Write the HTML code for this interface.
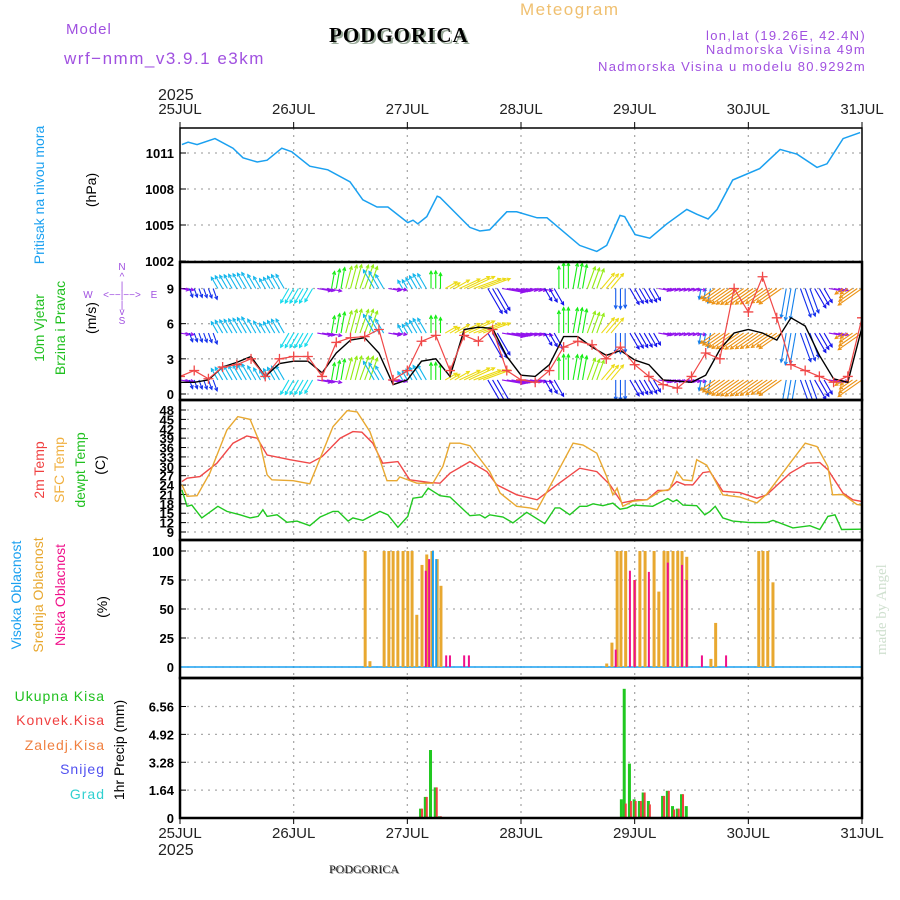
<!DOCTYPE html>
<html><head><meta charset="utf-8">
<style>
html,body{margin:0;padding:0;background:#fff;}
svg{display:block;font-family:"Liberation Sans",sans-serif;}
.tick{font-size:13px;font-weight:bold;fill:#000;}
.date{font-size:15px;fill:#222;}
</style></head>
<body>
<svg id="chart" width="900" height="900" viewBox="0 0 900 900" xmlns="http://www.w3.org/2000/svg">
<defs>
<clipPath id="cp1"><rect x="180" y="129" width="682" height="132"/></clipPath>
<clipPath id="cp2"><rect x="180" y="263" width="682" height="136"/></clipPath>
<clipPath id="cp3"><rect x="180" y="401" width="682" height="138"/></clipPath>
</defs>
<g>
<text x="66" y="34" font-size="15" fill="#a050e0" letter-spacing="1">Model</text>
<text x="64" y="64" font-size="17" fill="#a050e0" letter-spacing="1.5">wrf−nmm_v3.9.1 e3km</text>
<text x="331" y="44" font-size="21" font-weight="bold" font-family="Liberation Serif,serif" fill="#9a9" letter-spacing="1">PODGORICA</text>
<text x="329" y="42" font-size="21" font-weight="bold" font-family="Liberation Serif,serif" fill="#000" letter-spacing="1">PODGORICA</text>
<text x="520" y="15" font-size="17" fill="#f0c070" letter-spacing="1.5">Meteogram</text>
<text x="866" y="40" font-size="13" fill="#a050e0" text-anchor="end" letter-spacing="1.3">lon,lat (19.26E, 42.4N)</text>
<text x="866" y="54" font-size="13" fill="#a050e0" text-anchor="end" letter-spacing="1.3">Nadmorska Visina 49m</text>
<text x="866" y="71" font-size="13" fill="#a050e0" text-anchor="end" letter-spacing="1.3">Nadmorska Visina u modelu 80.9292m</text>
<text x="158" y="100" font-size="16" fill="#222">2025</text>
<text x="158" y="855" font-size="16" fill="#222">2025</text>
<text x="330" y="874" font-size="12" font-family="Liberation Serif,serif" fill="#999">PODGORICA</text>
<text x="329" y="873" font-size="12" font-family="Liberation Serif,serif" fill="#222">PODGORICA</text>
<text transform="translate(886,655) rotate(-90)" font-size="15" font-family="Liberation Serif,serif" fill="#cfe0cf">made by Angel</text>
</g>
<g>
<text transform="translate(44,195) rotate(-90)" font-size="14" fill="#1aa0f0" text-anchor="middle">Pritisak na nivou mora</text>
<text transform="translate(96,190) rotate(-90)" font-size="14" fill="#000" text-anchor="middle">(hPa)</text>
<text transform="translate(44,328) rotate(-90)" font-size="14" fill="#20c020" text-anchor="middle">10m Vjetar</text>
<text transform="translate(65,328) rotate(-90)" font-size="14" fill="#20c020" text-anchor="middle">Brzina i Pravac</text>
<text transform="translate(96,318) rotate(-90)" font-size="14" fill="#000" text-anchor="middle">(m/s)</text>
<g fill="#a050e0" font-size="10" text-anchor="middle">
<text x="122" y="270">N</text><text x="122" y="280">^</text><text x="122" y="289">|</text>
<text x="122" y="298">&lt;−−|−−&gt;</text><text x="88" y="298">W</text><text x="154" y="298">E</text>
<text x="122" y="308">|</text><text x="122" y="315">v</text><text x="122" y="324">S</text>
</g>
<text transform="translate(44,470) rotate(-90)" font-size="14" fill="#f04040" text-anchor="middle">2m Temp</text>
<text transform="translate(64,470) rotate(-90)" font-size="14" fill="#f0b040" text-anchor="middle">SFC Temp</text>
<text transform="translate(85,470) rotate(-90)" font-size="14" fill="#20c020" text-anchor="middle">dewpt Temp</text>
<text transform="translate(105,465) rotate(-90)" font-size="14" fill="#000" text-anchor="middle">(C)</text>
<text transform="translate(21,595) rotate(-90)" font-size="14" fill="#1aa0f0" text-anchor="middle">Visoka Oblacnost</text>
<text transform="translate(43,595) rotate(-90)" font-size="14" fill="#e8a830" text-anchor="middle">Srednja Oblacnost</text>
<text transform="translate(65,595) rotate(-90)" font-size="14" fill="#f0108a" text-anchor="middle">Niska Oblacnost</text>
<text transform="translate(107,607) rotate(-90)" font-size="14" fill="#000" text-anchor="middle">(%)</text>
<g font-size="14" text-anchor="end" letter-spacing="1">
<text x="105" y="701" fill="#20c020">Ukupna Kisa</text>
<text x="105" y="725" fill="#f04040">Konvek.Kisa</text>
<text x="105" y="750" fill="#f08040">Zaledj.Kisa</text>
<text x="105" y="774" fill="#5050f0">Snijeg</text>
<text x="105" y="799" fill="#30d0d0">Grad</text>
</g>
<text transform="translate(124,750) rotate(-90)" font-size="14" fill="#000" text-anchor="middle">1hr Precip (mm)</text>
</g>
<g id="plots"></g>
</svg>
<script>
// ---- data (time in hours from 25JUL 00) ----
const dayLabels = ["25JUL","26JUL","27JUL","28JUL","29JUL","30JUL","31JUL"];
const presTicks = [1002,1005,1008,1011];
const presT = [0.4,1.7,3.6,7.4,11.2,13.3,16.3,18.4,21.5,23.6,27.4,31.2,35.9,38.6,41.6,43.9,48.1,49.2,50.2,52.1,54.3,54.9,61.2,63.3,65.4,69,71.1,75.4,77.5,80.2,84.4,88,90.1,92.9,93.9,96.1,99.2,102.8,107,109.1,111.5,113.4,116.7,122.4,126.7,130.3,134.5,136.6,140,143.6];
const presV = [1011.7,1011.9,1011.7,1012.2,1011.4,1010.6,1010.25,1010.4,1011.4,1011.1,1009.9,1009.6,1008.6,1007.1,1006.5,1006.5,1005.2,1005.4,1005.1,1005.7,1007.4,1007.3,1004.8,1004.5,1004.6,1006.1,1006.1,1005.6,1005.6,1004.7,1003.3,1002.8,1003.3,1005.8,1005.7,1004.2,1003.9,1005.1,1006.3,1005.9,1005.5,1006.3,1008.75,1009.7,1011.3,1010.9,1009.8,1010.1,1012.2,1012.7];

const windTicks = [0,3,6,9];
const windSpeed = [1.0,1.0,1.2,2.3,2.7,3.2,1.5,2.6,2.8,2.8,1.8,3.5,4.6,4.8,3.5,0.8,1.2,2.8,3.0,1.5,5.5,5.7,5.6,3.2,1.6,1.5,2.5,4.9,4.9,4.0,3.3,3.7,2.9,2.5,1.2,1.1,1.0,1.6,3.8,5.2,5.5,5.2,4.6,6.5,5.8,3.3,1.3,1.0,5.7];
const windGust = [1.5,2.0,1.3,2.3,2.5,3.0,1.5,3.0,3.2,3.2,1.5,4.4,4.8,4.9,5.5,1.2,2.0,4.5,5.0,2.0,5.0,4.5,5.5,2.0,1.2,1.0,2.0,4.0,4.5,4.2,3.0,4.0,2.5,1.5,0.8,0.5,1.5,3.5,3.0,9.0,7.0,10.0,6.5,2.5,2.0,1.5,1.0,1.5,6.5];
const windDir = [100,160,160,330,330,330,330,330,210,210,100,10,15,20,330,100,330,330,0,60,65,70,150,100,100,100,150,0,10,20,40,180,150,150,100,100,100,190,235,235,235,235,235,190,160,150,100,235,235];
const windRows = [9,5.2,1.2];

const tempTicks = [9,12,15,18,21,24,27,30,33,36,39,42,45,48];
const t2mT = [0.4,1.5,4.2,7.8,11.2,14.1,16.3,18.4,23.2,27.4,30,33.8,36.5,38.4,40.7,42.8,46,48.5,52.8,54.9,57,61.2,64.8,66.9,71.1,75.4,79.6,84.4,88,90.8,93.3,96.5,98.6,100.9,103,104.9,106.6,108.3,110.4,111.9,114.6,118.2,121.8,123.9,128.8,132.4,135.1,136.8,140,142.1,143.8];
const t2mV = [25.1,26.2,26.7,31,37.4,39.7,39,33.6,32.1,31,33.1,39,41.1,40.9,37.4,31,31.5,25.7,24.8,24.6,27.8,31.5,28.3,24.1,20.9,19.3,24.1,29.4,28.3,24.1,18.3,19.3,19.3,22.3,22.3,25.1,24.1,24.1,28,28.3,22,21.6,19.8,20.9,27.8,31,31.2,28.9,21.4,19.3,18.8];
const sfcT = [0.4,1.5,3.6,6.3,9.9,12.2,14.8,16.9,18.4,19.4,23.9,27.4,32.3,35.3,37.4,40.1,42.2,43.7,45.8,46.4,50,53.4,55.5,57,59.1,61.2,65.4,67.6,71.1,73.9,75.4,79.6,83,85.1,88,90.1,91.4,92.3,93.5,95.6,98.6,101.3,103.4,104.9,106.2,108.1,109.1,111.2,114.6,118.2,121.8,123.9,128.8,132,134.5,136.8,137.8,140,142.9,143.8];
const sfcV = [24.1,20.4,20.6,27.8,41.6,45.9,45,37.4,27.3,25.7,25.4,24.4,42.7,47.8,47.4,41.1,32.1,25.4,25.4,26.6,24.6,24.6,30,37.4,37.4,36.6,28.3,21.4,17.2,16.7,16.1,27.8,37.4,36.8,34.2,26.7,20.9,23,17.2,18.8,19.3,22,22.6,28.3,25.7,25.4,32.1,30.4,20.9,20.2,18.3,21.1,31,37.4,36.3,29.9,20.9,21,17.8,17.6];
const dewT = [0.4,1.5,2.5,4.6,8,9.9,12.7,14.8,16.5,17.5,18.4,20.5,22.6,24.7,27.4,29.6,32.3,33.4,35.5,36.5,38.6,42.2,43.9,46,48.1,49.2,51.1,52.4,54.9,57,61.2,63.3,64.4,65.4,68.2,70.3,73.2,77,79.2,80.2,82.3,84.4,85.9,87.2,89.3,91.4,92.9,94.4,95.6,99.8,103,104.1,104.9,106.2,109.1,110.8,111.9,113,114.6,116.7,120.3,123.9,125.2,129.4,133,135.1,136.8,138.3,139.7,143.8];
const dewV = [22.5,17.2,17.6,13.5,17.2,15.6,14.5,13.5,14,16.1,14,14.5,12.1,12.5,11,13.8,15.6,15.6,12.5,13.5,12.7,15.6,14.5,10.5,14,19.8,20.2,23,20.6,20.2,14.2,14.5,13.5,14.5,13.8,11.9,15.3,11.7,16.7,16.7,14.5,17.2,17.2,18,17.4,18.2,16.3,16.7,17.6,17.2,19.7,18.7,19.3,17.6,17.4,14.5,15.6,17.2,13.5,12.5,12,12,12.7,10.3,11,9.8,14,14.5,9.8,9.9];

const cloudTicks = [0,25,50,75,100];
const midT = [39.1,40.1,43.1,44.1,45,46,47.1,48.1,49,50,51.1,52.1,53.2,54.3,55.1,90.1,91.2,92.3,93.1,94.1,96,97.1,98.2,100.1,101.1,102.2,103,104.1,105.1,106,107,112.1,113.1,122.2,123.1,124.1,125.2];
const midV = [100,5,100,100,100,100,100,100,100,45,88,97,100,93,70,3,21,100,100,100,75,100,100,100,65,100,100,100,100,100,95,7,38,100,100,100,73];
const lowT = [51.9,52.6,56.2,57,60,61,92,95,96,99,103,106,107,110.2,115.3];
const lowV = [83,93,10,10,10,10,15,83,75,82,90,88,75,10,10];
const highT = [53.4,54.1];
const highV = [100,93];

const precTicks = [0,1.64,3.28,4.92,6.56];
const precT = [50.9,51.9,53,54,54.9,93.3,93.9,95,96,97.1,97.9,99,102,103,104.1,105.1,106,107];
const precTotal = [0.55,1.24,4.0,1.8,0.1,1.1,7.6,3.2,1.1,1.0,1.5,1.0,1.3,1.6,0.7,0.55,1.4,0.7];
const precConv = [0.55,1.24,0.0,1.8,0.1,0.0,0.85,1.0,1.0,1.0,1.5,0.8,1.3,1.6,0.5,0.55,1.4,0.0];

// ---- scales ----
const X0=180, X1=862, HOURS=144;
function X(h){return X0+(X1-X0)*h/HOURS;}
function lin(v0,y0,v1,y1){return v=>y0+(v-v0)*(y1-y0)/(v1-v0);}
const yP = lin(1011,153,1002,261);
const yW = lin(0,394,9,288.5);
const yT = lin(48,410,9,532);
const yC = lin(0,667,100,551);
const yR = lin(0,818,6.56,706.5);

const NS="http://www.w3.org/2000/svg";
const root=document.getElementById('plots');
function el(tag,attrs,parent){const e=document.createElementNS(NS,tag);for(const k in attrs)e.setAttribute(k,attrs[k]);(parent||root).appendChild(e);return e;}

function grid(top,bottom,ticks,yf,fmt,nm){
  const g=el('g',{});
  
  
  ticks.forEach(t=>{
    const y=yf(t);
    el('line',{x1:X0,x2:X1,y1:y,y2:y,stroke:'#aaa','stroke-dasharray':'2,5','stroke-width':1.3},g);
    const tx=el('text',{x:174,y:y+5,'text-anchor':'end',class:'tick'},g);
    tx.textContent=fmt(t);
    
    
    el('line',{x1:X0,x2:X0+6,y1:y,y2:y,stroke:'#000'},g);
  });
  for(let d=1;d<6;d++){const x=X(d*24);el('line',{x1:x,x2:x,y1:top,y2:bottom,stroke:'#aaa','stroke-dasharray':'2,5','stroke-width':1.3},g);}
}
grid(128,262,presTicks,yP,v=>v,'pressure');
grid(262,400,windTicks,yW,v=>v,'wind');
grid(400,540,tempTicks,yT,v=>v,'temp');
grid(540,678,cloudTicks,yC,v=>v,'cloud');
grid(678,818,precTicks,yR,v=>v===0?'0':v.toFixed(2),'precip');

dayLabels.forEach((d,i)=>{
  const x=X(i*24);
  const a=el('text',{x:x,y:114,'text-anchor':'middle',class:'date'});a.textContent=d;
  
  
  const b=el('text',{x:x,y:838,'text-anchor':'middle',class:'date'});b.textContent=d;
  
  
});

function line(ts,vs,yf,color,nm,clip,w){
  const p=el('path',{d:ts.map((t,i)=>(i?'L':'M')+X(t).toFixed(1)+','+yf(vs[i]).toFixed(1)).join(''),fill:'none',stroke:color,'stroke-width':w||1.4,'clip-path':clip?'url(#'+clip+')':''});
  
  
  return p;
}
line(presT,presV,yP,'#1aa0f0','pressure-line','cp1',1.5);

const hueTab=[[0,120],[20,85],[40,55],[70,55],[100,275],[150,240],[160,232],[180,220],[190,210],[210,185],[235,35],[260,45],[300,170],[330,195],[350,140]];
function hueOf(a){let best=hueTab[0],bd=999;hueTab.forEach(p=>{let d=Math.abs(p[0]-a);d=Math.min(d,360-d);if(d<bd){bd=d;best=p;}});return best[1];}
const wg=el('g',{'clip-path':'url(#cp2)'});


const windH=windSpeed.map((_,i)=>i*3);
windRows.forEach(rv=>{
  const by=yW(rv);
  for(let k=0;k<(windH.length-1)*3+1;k++){
    const i=Math.floor(k/3), j=Math.min(i+1,windH.length-1), f=(k%3)/3;
    const h=windH[i]+f*3;
    const sp=windSpeed[i]*(1-f)+windSpeed[j]*f;
    const dir=(f>0.5)?windDir[j]:windDir[i];
    const L=5+sp*4.2;
    const r=dir*Math.PI/180;
    const x=X(h), x2=x+Math.sin(r)*L, y2=by-Math.cos(r)*L;
    const c='hsl('+hueOf(dir)+',85%,50%)';
    const ar=el('line',{x1:x,y1:by,x2:x2,y2:y2,stroke:c,'stroke-width':1.1},wg);
    
    
    const a1=r+Math.PI*0.85, a2=r-Math.PI*0.85;
    el('path',{d:'M'+(x2+Math.sin(a1)*3.5)+','+(y2-Math.cos(a1)*3.5)+'L'+x2+','+y2+'L'+(x2+Math.sin(a2)*3.5)+','+(y2-Math.cos(a2)*3.5),fill:'none',stroke:c,'stroke-width':1.1},wg);
  }
});
line(windH,windSpeed,yW,'#000','wind-speed-line','cp2',1.4);
line(windH,windGust,yW,'#f04848','wind-gust-line','cp2',1.2);
const gg=el('g',{'clip-path':'url(#cp2)'});


windH.forEach((h,i)=>{const x=X(h),y=yW(windGust[i]);el('path',{d:`M${x-5},${y}h10M${x},${y-5}v10`,stroke:'#f04848','stroke-width':1.3},gg);});

line(t2mT,t2mV,yT,'#f04848','temp-2m-line','cp3',1.4);
line(sfcT,sfcV,yT,'#e8a830','temp-sfc-line','cp3',1.4);
line(dewT,dewV,yT,'#20c820','dewpoint-line','cp3',1.4);

el('line',{x1:X0,x2:X1,y1:yC(0),y2:yC(0),stroke:'#1aa0f0','stroke-width':1.5});
function bars(ts,vs,yf,color,w,off,nm){
  ts.forEach((t,i)=>{if(vs[i]<=0)return;const y=yf(vs[i]);const b=el('rect',{x:X(t)+off,y:y,width:w,height:yf(0)-y,fill:color});
    
    });
}
bars(midT,midV,yC,'#e8a830',3,-1.5,'mid-cloud-bar');
bars(lowT,lowV,yC,'#f0108a',2,-1,'low-cloud-bar');
bars(highT,highV,yC,'#1aa0f0',2,-1,'high-cloud-bar');
bars(precT,precTotal,yR,'#20c820',3,-2,'total-precip-bar');
bars(precT,precConv,yR,'#f04040',2,0,'convective-precip-bar');

[[128,262],[262,400],[400,540],[540,678],[678,818]].forEach((p,i)=>{
  const r=el('rect',{x:X0,y:p[0],width:X1-X0,height:p[1]-p[0],fill:'none',stroke:'#000','stroke-width':i===0?1.5:2.5});
  
  
});
for(let d=0;d<=6;d++){const x=X(d*24);el('line',{x1:x,x2:x,y1:818,y2:824,stroke:'#000'});el('line',{x1:x,x2:x,y1:122,y2:128,stroke:'#000'});}
</script>
</body></html>
